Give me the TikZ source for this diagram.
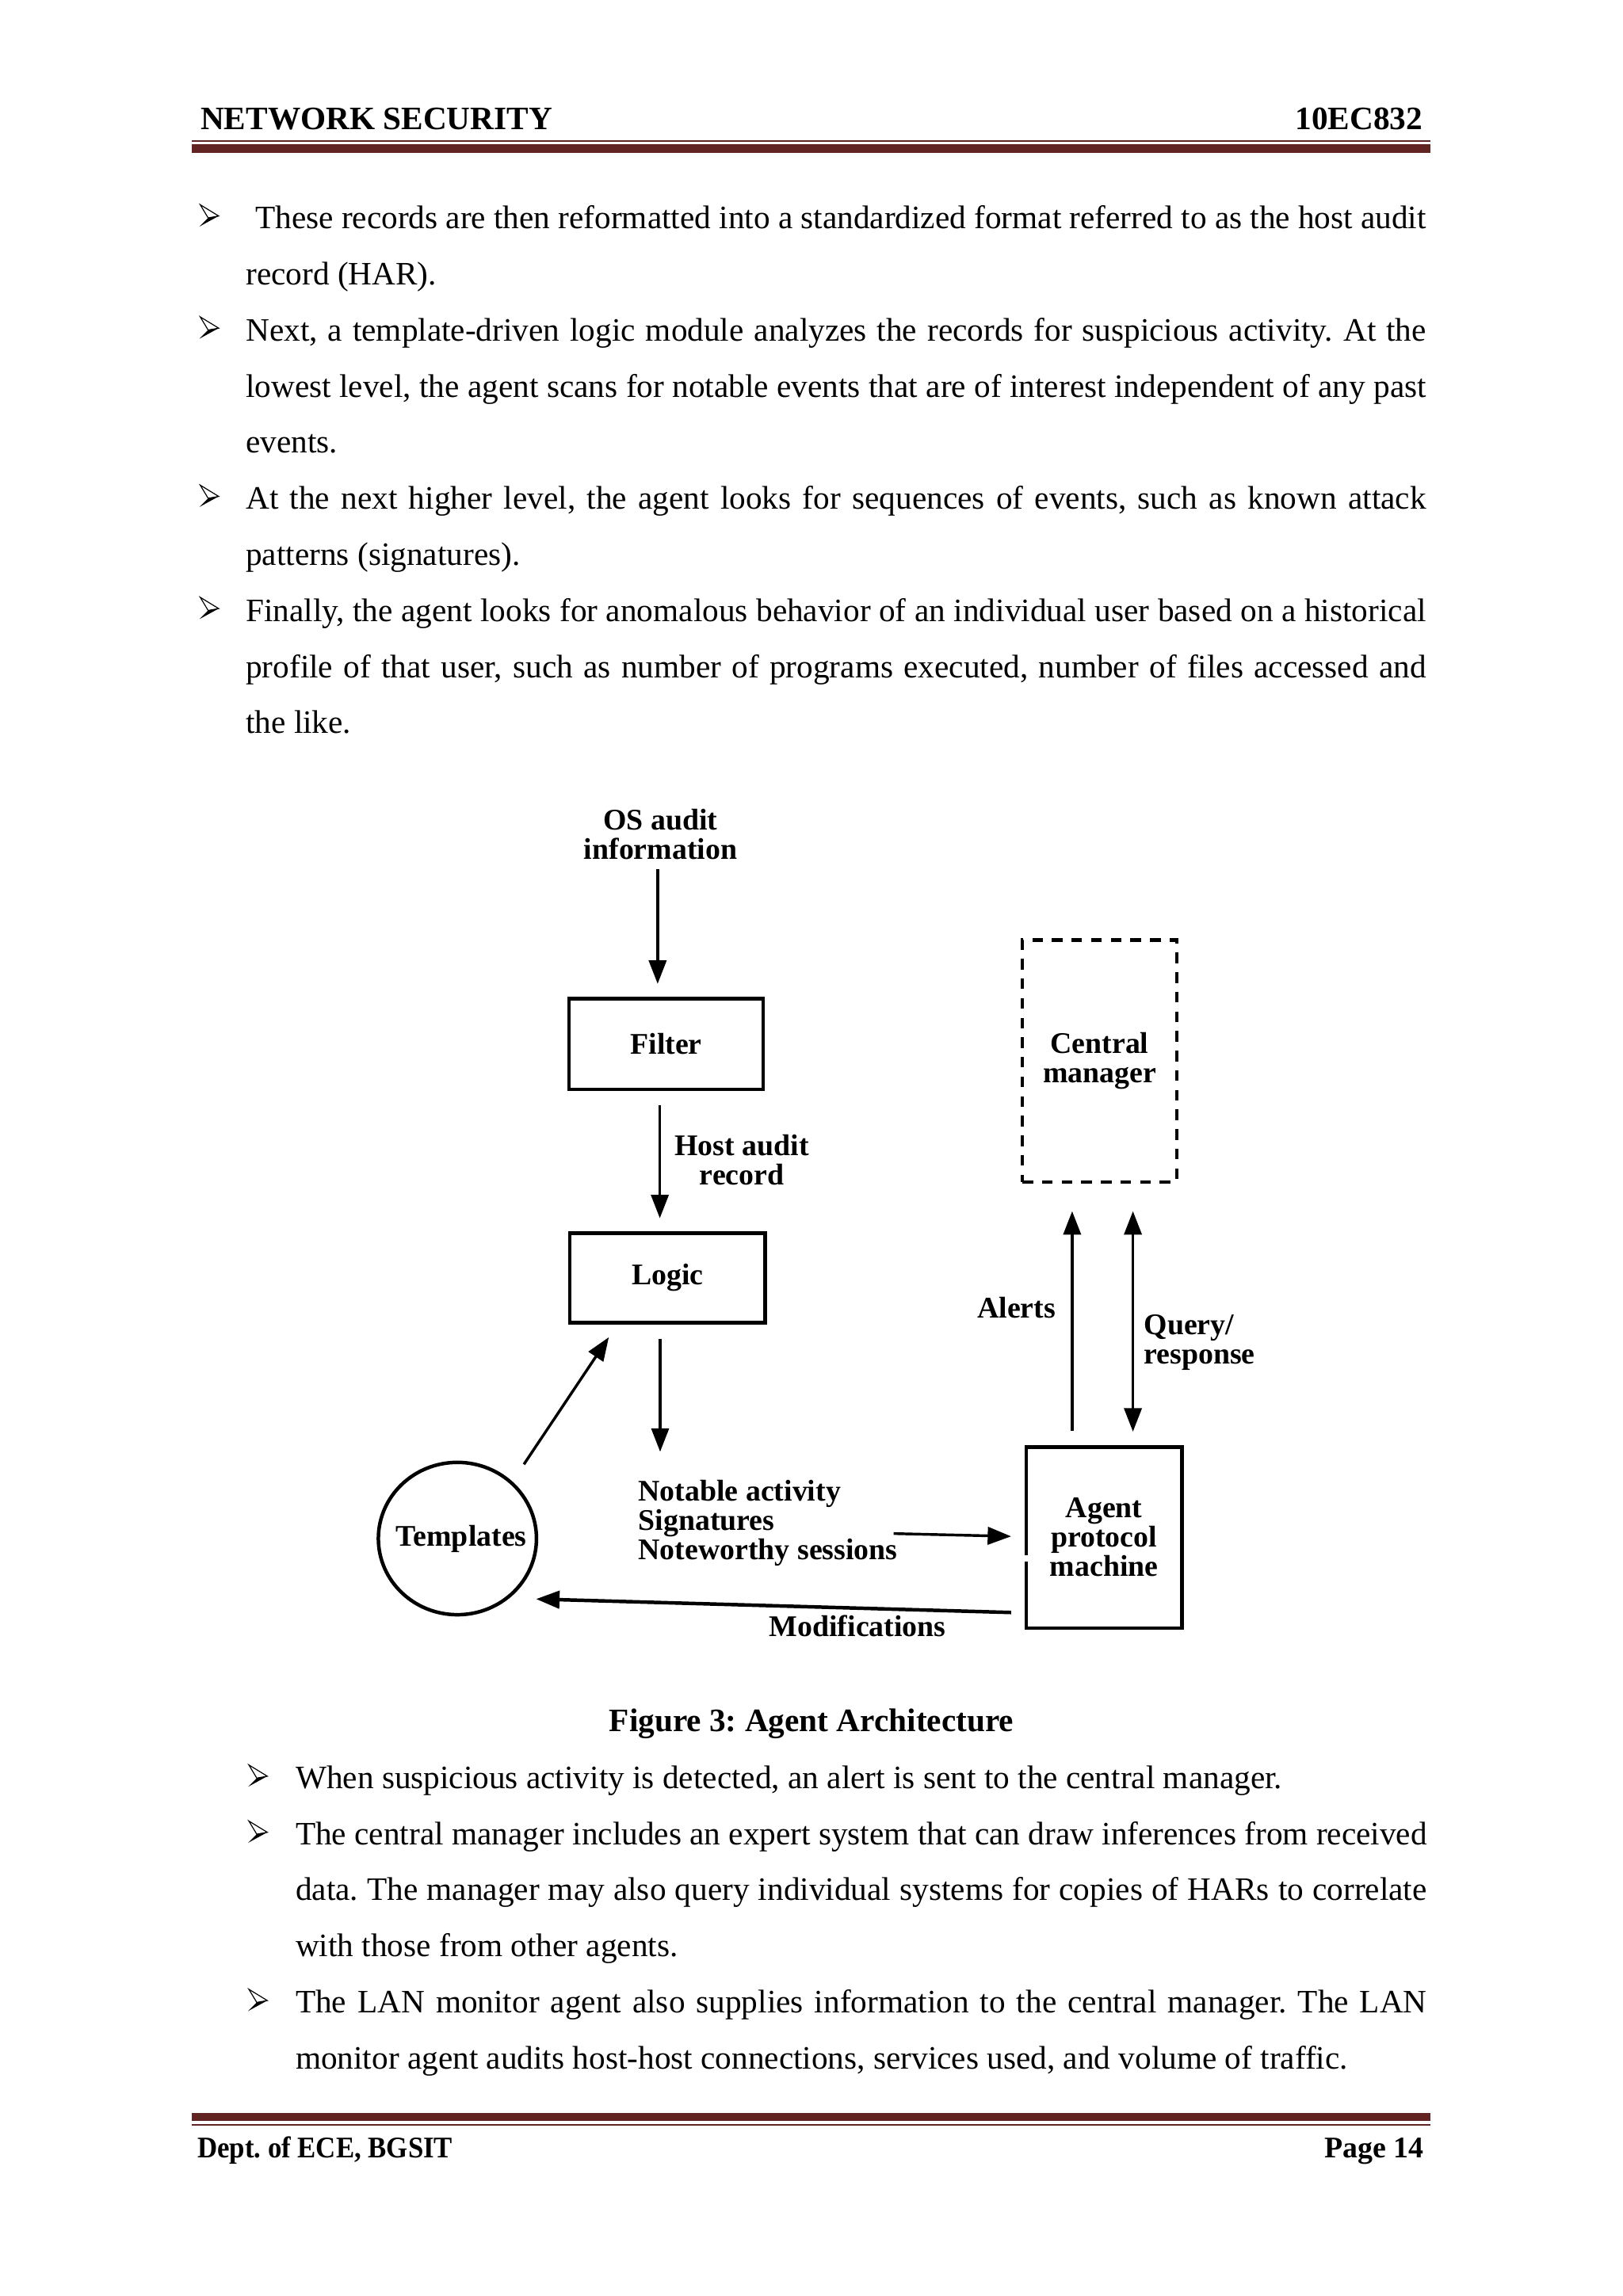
\documentclass[tikz,border=0pt]{standalone}
\usepackage{fontspec}
\usepackage{graphicx}
\setmainfont{Liberation Serif}
\usetikzlibrary{arrows.meta,shapes.geometric,calc}
\definecolor{hdrred}{HTML}{622423}
\begin{document}
\frenchspacing
\begin{tikzpicture}[x=0.5373pt,y=-0.5373pt,
  >={Triangle[length=8.6pt,width=6.4pt]},
  bodytext/.style={anchor=base west, inner sep=0pt, align=justify, font=\frenchspacing\fontsize{12}{20.58}\selectfont},
  headtext/.style={inner sep=0pt, font=\frenchspacing\bfseries\fontsize{12}{14}\selectfont},
  figlabel/.style={inner sep=0pt, font=\bfseries\fontsize{11}{10.75}\selectfont, align=center},
  boxnode/.style={figlabel, draw, line width=1.3pt},
  dashbox/.style={boxnode, line width=1.2pt, dash pattern=on 3.9pt off 3.3pt},
  arr/.style={line width=1pt, ->},
  bul/.pic={
    \draw[line width=0.35pt, line join=miter] (-12.6,-7.7) -- (0,0) -- (-7.2,1.3) -- cycle;
    \fill (0,0) -- (-7.2,1.3) -- (-13.1,7.2) -- cycle;
  }
]
\useasboundingbox (0,0) rectangle (1108,1568);
\fill[white] (0,0) rectangle (1108,1568);

% header
\node[headtext, anchor=base west] (hleft) at (136.6,88.4) {NETWORK SECURITY};
\node[headtext, anchor=base east] (hright) at (971.7,88.4) {10EC832};
\fill[hdrred] (131,95.7) rectangle (976.5,96.9);
\fill[hdrred] (131,98.4) rectangle (976.5,104.2);

% first bullet block
\pic at (149.3,147.5) {bul};
\node[bodytext, text width=433pt] (b1) at (167.5,156.2) {\hspace*{3.5pt}These records are then reformatted into a standardized format referred to as the host audit\linebreak record (HAR).};
\pic at (149.3,224.1) {bul};
\node[bodytext, text width=433pt] (b2) at (167.5,232.8) {Next, a template-driven logic module analyzes the records for suspicious activity. At the\linebreak lowest level, the agent scans for notable events that are of interest independent of any past\linebreak events.};
\pic at (149.3,339.0) {bul};
\node[bodytext, text width=433pt] (b3) at (167.5,347.7) {At the next higher level, the agent looks for sequences of events, such as known attack\linebreak patterns (signatures).};
\pic at (149.3,415.6) {bul};
\node[bodytext, text width=433pt] (b4) at (167.5,424.3) {Finally, the agent looks for anomalous behavior of an individual user based on a historical\linebreak profile of that user, such as number of programs executed, number of files accessed and\linebreak the like.};

% diagram
\node[figlabel] (os) at (451,570) {OS audit\\information};
\node[boxnode, minimum width=71.2pt, minimum height=33.3pt] (filter) at (454.8,713) {Filter};
\node[figlabel] (har) at (506.5,792) {Host audit\\record};
\node[boxnode, minimum width=71.7pt, minimum height=32.9pt] (logic) at (455.7,872.7) {Logic};
\node[draw, ellipse, line width=1.3pt, minimum width=58pt, minimum height=55.9pt, inner sep=0pt, font=\bfseries\fontsize{11}{10.75}\selectfont] (templates) at (312.3,1050.7) {\makebox[0pt]{\kern2.9pt Templates}};
\node[figlabel, align=left, anchor=west] (notable) at (435.5,1040.3) {Notable activity\\Signatures\\Noteworthy sessions};
\node[boxnode, minimum width=57.2pt, minimum height=66.4pt] (agent) at (753.8,1050) {Agent\\protocol\\machine};
\node[dashbox, minimum width=56.6pt, minimum height=88.7pt] (central) at (750.7,724.5) {Central\\manager};
\node[figlabel, anchor=base] (alerts) at (694,900) {Alerts};
\node[figlabel, align=left, anchor=west] (query) at (780.7,916.7) {Query/\\response};
\node[figlabel, anchor=base] (mods) at (585.5,1117.5) {Modifications};

\draw[white, line width=2.5pt] (agent.west |- 0,1062.3) -- (agent.west |- 0,1066.5);

\draw[arr, shorten <=3.2pt, shorten >=4.8pt] (449,0 |- os.south) -- (449,0 |- filter.north);
\draw[arr, shorten <=5.2pt, shorten >=4.8pt] (450.5,0 |- filter.south) -- (450.5,0 |- logic.north);
\draw[arr, shorten <=5.4pt, shorten >=10.3pt] (450.7,0 |- logic.south) -- (450.7,0 |- notable.north);
\draw[arr] ($(templates.center)+(45.4,-50.7)$) -- ($(logic.south west)+(27.9,8.7)$);
\draw[arr] ($(notable.east)+(-3,7)$) -- ($(agent.west)+(-9,-0.8)$);
\draw[arr, line width=1.3pt] ($(agent.south west)+(-9,-11.8)$) -- ($(templates.center)+(53.7,41.3)$);
\draw[arr, shorten <=5.4pt, shorten >=10.2pt] (732,0 |- agent.north) -- (732,0 |- central.south);
\draw[line width=1pt, <->, shorten <=10.2pt, shorten >=5pt] (773.5,0 |- central.south) -- (773.5,0 |- agent.north);

% caption
\node[headtext, anchor=base] (caption) at (554,1182.7) {Figure 3: Agent Architecture};

% second bullet block
\pic at (182.5,1213.0) {bul};
\node[bodytext, text width=415pt] (c1) at (201.5,1221.3) {When suspicious activity is detected, an alert is sent to the central manager.};
\pic at (182.5,1251.3) {bul};
\node[bodytext, text width=415pt] (c2) at (201.5,1259.6) {The central manager includes an expert system that can draw inferences from received\linebreak data. The manager may also query individual systems for copies of HARs to correlate\linebreak with those from other agents.};
\pic at (182.5,1366.2) {bul};
\node[bodytext, text width=415pt] (c3) at (201.5,1374.5) {The LAN monitor agent also supplies information to the central manager. The LAN\linebreak monitor agent audits host-host connections, services used, and volume of traffic.};

% footer
\fill[hdrred] (131,1443) rectangle (976.5,1448.6);
\fill[hdrred] (131,1450.6) rectangle (976.5,1451.8);
\node[headtext, font=\bfseries\fontsize{11}{13}\selectfont, anchor=base west] (fleft) at (134.4,1473.8) {\scalebox{0.92}[1]{Dept. of ECE, BGSIT}};
\node[headtext, font=\bfseries\fontsize{11}{13}\selectfont, anchor=base east] (fright) at (972.5,1473.8) {Page 14};
\end{tikzpicture}
\end{document}
